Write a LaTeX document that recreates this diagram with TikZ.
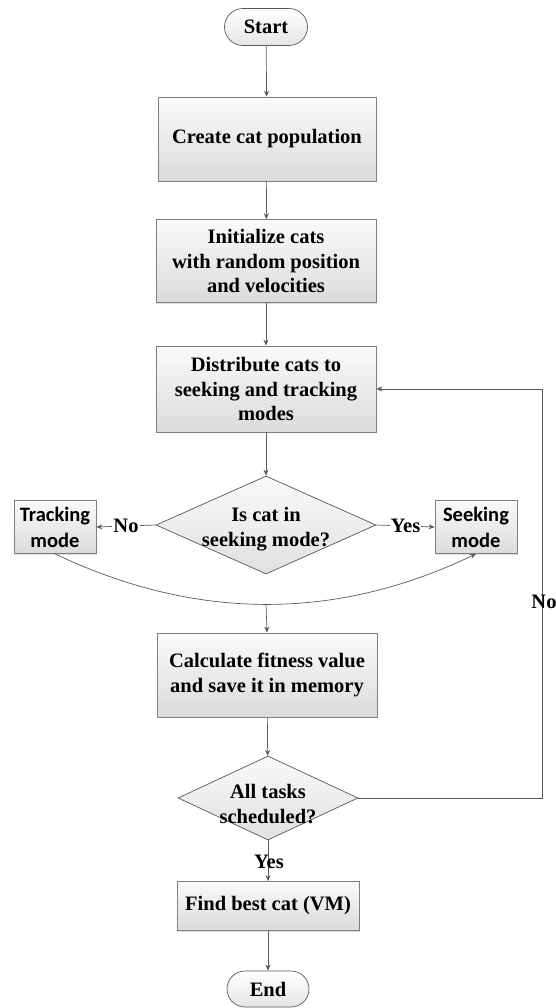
\documentclass[tikz,border=0pt]{standalone}
\usepackage{fontspec}
\setmainfont{Liberation Serif}
\newfontfamily\calibrifont{Carlito}
\usetikzlibrary{shapes.geometric,shapes.misc,arrows.meta,shadows}
\definecolor{linec}{HTML}{595959}
\definecolor{borderc}{HTML}{7F7F7F}
\begin{document}
\begin{tikzpicture}[x=1pt,y=-1pt,
  txt/.style={font=\fontsize{20.5}{24.5}\selectfont\bfseries, align=center, inner sep=1pt},
  proc/.style={draw=borderc, line width=0.7pt, top color=white!98!black, bottom color=white!86!black,
     drop shadow={shadow xshift=1.2pt, shadow yshift=-1.2pt, opacity=0.25},
     inner sep=0pt, anchor=center, font=\fontsize{20.5}{24.5}\selectfont\bfseries, align=center},
  modebox/.style={proc, font=\calibrifont\fontsize{20.5}{26}\selectfont\bfseries},
  term/.style={draw=linec, line width=0.7pt, rounded rectangle, top color=white, bottom color=white!90!black,
     inner sep=0pt, font=\fontsize{20.5}{24.5}\selectfont\bfseries},
  deci/.style={draw=linec, line width=0.7pt, diamond, top color=white!98!black, bottom color=white!88!black,
     inner sep=0pt},
  arr/.style={draw=linec, line width=0.7pt, -{Stealth[length=6pt,width=5pt]}},
  lbl/.style={font=\fontsize{20.5}{24.5}\selectfont\bfseries, inner sep=1pt}
]
\useasboundingbox (0,0) rectangle (555,1008);

\node[term, minimum width=83, minimum height=37] (start) at (266,27) {Start};
\node[proc, minimum width=218, minimum height=84] (create) at (267,139) {Create cat population};
\node[proc, minimum width=220, minimum height=83] (init) at (266,261) {Initialize cats\\with random position\\and velocities};
\node[proc, minimum width=220, minimum height=86] (dist) at (266,389) {Distribute cats to\\seeking and tracking\\modes};
\node[deci, minimum width=220, minimum height=98] (dia1) at (266,525) {};
\node[txt] (dia1t) at (266,529) {Is cat in\\seeking mode?};
\node[modebox, minimum width=82, minimum height=53] (track) at (55,527) {Tracking\\mode};
\node[modebox, minimum width=82, minimum height=53] (seek) at (476,527) {Seeking\\mode};
\coordinate (merge) at (266,604);
\node[proc, minimum width=220, minimum height=84] (calc) at (267,675) {Calculate fitness value\\and save it in memory};
\node[deci, minimum width=180, minimum height=84] (dia2) at (268,798) {};
\node[txt] (dia2t) at (268,804) {All tasks\\scheduled?};
\node[proc, minimum width=182, minimum height=49] (find) at (268,906) {Find best cat (VM)};
\node[term, minimum width=82, minimum height=36] (end) at (268,989) {End};

\draw[arr] (start) -- (create);
\draw[arr] (create) -- (init);
\draw[arr] (init) -- (dist);
\draw[arr] (dist) -- (dia1);
\draw[arr] (dia1.west) -- node[lbl, fill=white, pos=0.5] (nolbl) {No} (track.east);
\draw[arr] (dia1.east) -- node[lbl, fill=white, pos=0.5] (yeslbl) {Yes} (seek.west);
\draw[arr] (track.south) .. controls (196,621) and (336,621) .. (seek.south);
\draw[arr] (merge) -- (calc.north);
\draw[arr] (calc) -- (dia2);
\draw[arr] (dia2.south) -- (find.north);
\node[lbl] (yes2) at (269,862) {Yes};
\draw[arr] (find) -- (end);
\coordinate (fbr) at (542,798);
\coordinate (fbt) at (542,389);
\draw[arr] (dia2.east) -- (fbr) -- (fbt) -- (dist.east);
\node[lbl] (no2) at (544,602) {No};
\end{tikzpicture}
\end{document}
